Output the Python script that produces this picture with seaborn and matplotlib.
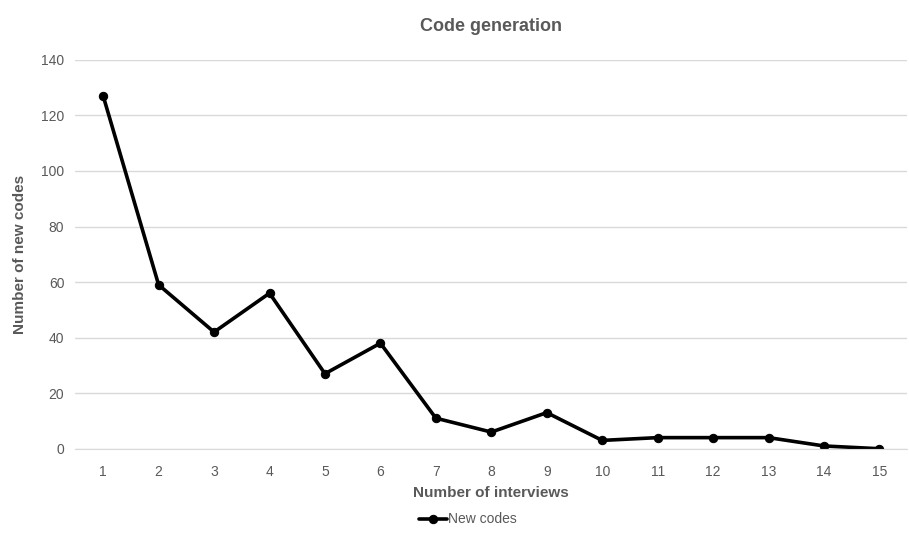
import pandas as pd
import matplotlib.pyplot as plt
import seaborn as sns

# data
interviews = list(range(1, 16))
new_codes = [127, 59, 42, 56, 27, 38, 11, 6, 13, 3, 4, 4, 4, 1, 0]

df = pd.DataFrame({"Number of interviews": interviews, "New codes": new_codes})

sns.set_style("white")
plt.rcParams['font.family'] = ['Liberation Sans', 'DejaVu Sans']

gray = "#595959"
fig = plt.figure(figsize=(9.09, 5.54), dpi=100)
ax = fig.add_axes([0.083, 0.19, 0.915, 0.702])

sns.lineplot(data=df, x="Number of interviews", y="New codes", ax=ax,
             color="black", linewidth=2.6, marker="o", markersize=6,
             markeredgecolor="black", label="New codes")

ax.set_xlim(0.5, 15.5)
ax.set_ylim(0, 140)
ax.set_yticks(range(0, 141, 20))
ax.set_xticks(interviews)
ax.yaxis.grid(True, color="#d9d9d9", linewidth=1)
ax.set_axisbelow(True)
for s in ["top", "right", "left"]:
    ax.spines[s].set_visible(False)
ax.spines["bottom"].set_color("#d9d9d9")
ax.tick_params(axis="both", colors=gray, labelsize=10, length=0)
ax.tick_params(axis="x", pad=12)
ax.tick_params(axis="y", pad=8)

ax.set_xlabel("Number of interviews", fontsize=11, fontweight="bold", color=gray, labelpad=5)
ax.set_ylabel("Number of new codes", fontsize=11, fontweight="bold", color=gray, labelpad=10)
ax.set_title("Code generation", fontsize=13, fontweight="bold", color=gray, pad=21)

leg = ax.legend(loc="upper center", frameon=False,
                fontsize=10, handlelength=2, handletextpad=0.1,
                borderaxespad=0)
leg.set_bbox_to_anchor((0.515, 0.085), transform=fig.transFigure)
for t in leg.get_texts():
    t.set_color(gray)

fig.savefig("out.png", dpi=100)
